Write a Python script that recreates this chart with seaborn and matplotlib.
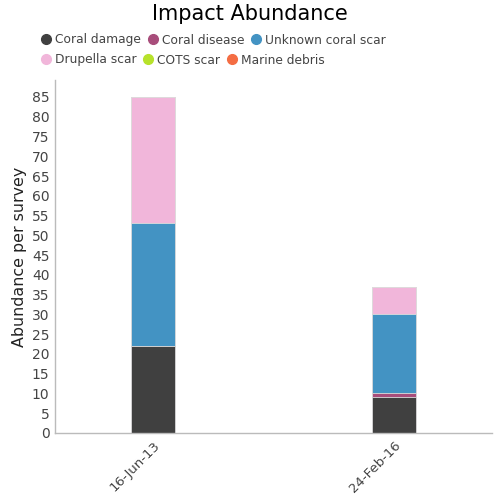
import matplotlib
matplotlib.use("Agg")
import matplotlib.pyplot as plt
import seaborn as sns
import pandas as pd
import numpy as np
from matplotlib.lines import Line2D

dates = ["16-Jun-13", "24-Feb-16"]
series = ["Coral damage", "Coral disease", "Unknown coral scar", "Drupella scar", "COTS scar", "Marine debris"]
coral_damage = [22, 9]
coral_disease = [0, 1]
unknown_scar = [31, 20]
drupella_scar = [32, 7]
cots_scar = [0, 0]
marine_debris = [0, 0]
colors = ["#404040", "#a84d7b", "#4393c3", "#f1b6da", "#b7e22b", "#f46d43"]

values = [coral_damage, coral_disease, unknown_scar, drupella_scar, cots_scar, marine_debris]

sns.set_style("white")
plt.rcParams['font.family'] = ['DejaVu Sans']

fig = plt.figure(figsize=(5, 5), dpi=100)
ax = fig.add_axes([0.11, 0.134, 0.874, 0.706])

cum = np.cumsum(np.array(values, dtype=float), axis=0)
# draw from the top layer down so stacked segments show
for i in range(len(series) - 1, -1, -1):
    df = pd.DataFrame({"date": dates, "value": cum[i]})
    sns.barplot(data=df, x="date", y="value", color=colors[i], width=0.18,
                saturation=1, ax=ax, edgecolor="#dddddd", linewidth=0.6)

ax.set_xlim(-0.407, 1.407)
ax.set_ylim(0, 89.3)
ax.set_yticks(np.arange(0, 90, 5))
ax.tick_params(axis="y", labelsize=10, colors="#444444", length=0, pad=4)
ax.tick_params(axis="x", labelsize=9.5, colors="#444444", length=0, pad=4)
for lbl in ax.get_xticklabels():
    lbl.set_rotation(45)
    lbl.set_ha("right")
    lbl.set_rotation_mode("anchor")
ax.set_xlabel("")
ax.set_ylabel("Abundance per survey", fontsize=11.4, fontweight="medium", color="#222222")
ax.yaxis.set_label_coords(-0.064, 0.5)
for s in ["top", "right"]:
    ax.spines[s].set_visible(False)
for s in ["left", "bottom"]:
    ax.spines[s].set_color("#bbbbbb")
    ax.spines[s].set_linewidth(1)

fig.suptitle("Impact Abundance", fontsize=15, x=0.5, y=0.993, color="#000000")

handles = [Line2D([0], [0], marker="o", linestyle="", markersize=7,
                  markerfacecolor=c, markeredgecolor=c) for c in colors]
common = dict(ncol=3, frameon=False, fontsize=8.8, handlelength=0.8, handletextpad=0.35,
              columnspacing=0.55, labelcolor="#444444", borderaxespad=0, borderpad=0)
leg1 = fig.legend(handles[:3], series[:3], loc="center left", bbox_to_anchor=(0.082, 0.92), **common)
leg2 = fig.legend(handles[3:], series[3:], loc="center left", bbox_to_anchor=(0.082, 0.88), **common)

fig.savefig("out.png", dpi=100)
